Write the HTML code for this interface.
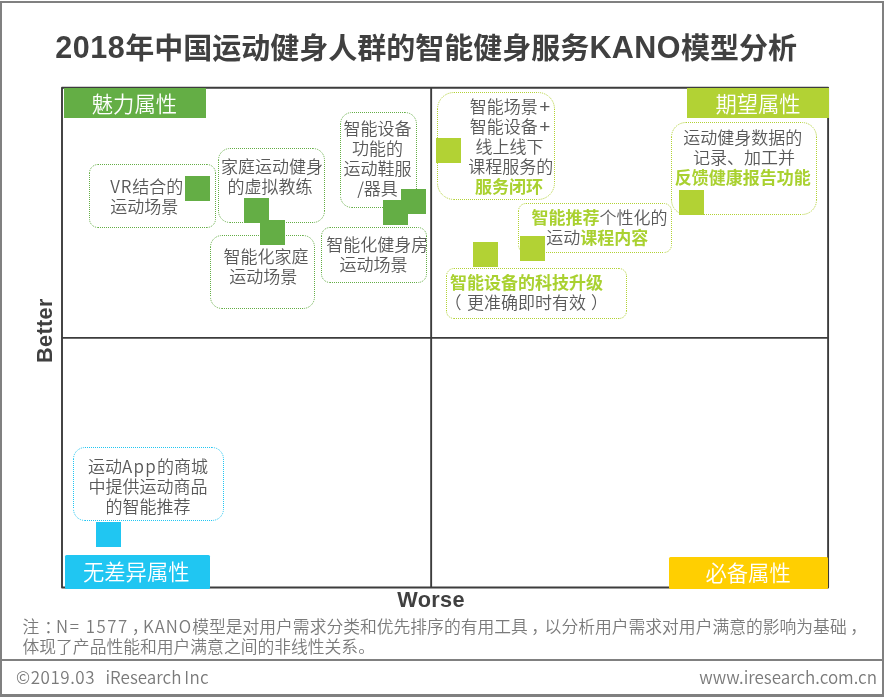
<!DOCTYPE html>
<html lang="zh-CN">
<head>
<meta charset="utf-8">
<title>2018年中国运动健身人群的智能健身服务KANO模型分析</title>
<style>
html,body{margin:0;padding:0;background:#fff;}
body{width:887px;height:697px;position:relative;overflow:hidden;
  font-family:"Liberation Sans","Noto Sans CJK SC",sans-serif;color:#595959;}
.abs{position:absolute;}
#frame{left:0;top:1px;width:880px;height:691px;border:2px solid #808080;border-bottom-width:3px;}
#sep{left:0;top:659px;width:884px;height:2px;background:#808080;}
#title{left:55.3px;top:22.5px;white-space:nowrap;font-weight:bold;font-size:29px;line-height:44px;color:#404040;
  font-family:"Noto Sans CJK SC",sans-serif;}
.lab{color:#fff;font-size:21.3px;text-align:center;font-family:"Noto Sans CJK SC DemiLight","Noto Sans CJK SC",sans-serif;font-weight:400;white-space:nowrap;}
.txt{font-family:"Noto Sans CJK SC DemiLight","Noto Sans CJK SC",sans-serif;font-size:17px;line-height:20px;text-align:center;white-space:nowrap;color:#595959;}
.txt b{color:#a9d130;font-weight:bold;font-family:"Noto Sans CJK SC",sans-serif;}
.sq{width:25px;height:25px;}
.g{background:#64ae45;}
.l{background:#b2d234;}
.c{background:#20c6f2;}
.ax{font-family:"Liberation Sans",sans-serif;font-weight:bold;font-size:21.7px;color:#404040;white-space:nowrap;line-height:24px;letter-spacing:0.35px;}
.note{font-family:"Noto Sans CJK SC DemiLight","Noto Sans CJK SC",sans-serif;font-size:16.8px;line-height:20px;color:#7a7a7a;white-space:nowrap;}
.note .la{letter-spacing:1px;}
.foot{font-family:"Noto Sans CJK SC DemiLight","Noto Sans CJK SC",sans-serif;font-size:17px;line-height:20px;color:#7a7a7a;white-space:nowrap;}
#t1{letter-spacing:0.55px;font-family:"Liberation Sans",sans-serif;font-size:30.5px;line-height:0;}#t3{letter-spacing:0.45px;font-family:"Liberation Sans",sans-serif;font-size:30.5px;line-height:0;}#t2,#t4{position:relative;top:1.3px;}
.pl{font-family:"Liberation Sans",sans-serif;line-height:0;font-size:19px;padding:0 0 0 1.5px;}
.pc{position:relative;}
</style>
</head>
<body style="will-change:transform">
<div id="frame" class="abs"></div>
<div id="sep" class="abs"></div>
<div id="title" class="abs"><span id="t1">2018</span><span id="t2">年中国运动健身人群的智能健身服务</span><span id="t3">KANO</span><span id="t4">模型分析</span></div>

<svg class="abs" style="left:0;top:0;" width="887" height="697" viewBox="0 0 887 697">
<rect x="62" y="87.7" width="766.1" height="499.8" fill="none" stroke="#3c3c3c" stroke-width="1.9" stroke-linejoin="round"/>
<line x1="431.15" y1="88" x2="431.15" y2="587" stroke="#3c3c3c" stroke-width="1.9"/>
<line x1="62" y1="337.95" x2="828" y2="337.95" stroke="#3c3c3c" stroke-width="1.8"/>
<g stroke="#64ae45" fill="none" stroke-width="1" stroke-dasharray="1 1"><path d="M98 164.5H207M98 227.5H207M89.5 173V219M215.5 173V219"/><path d="M89.5 173A8.5 8.5 0 0 1 98 164.5M207 164.5A8.5 8.5 0 0 1 215.5 173M215.5 219A8.5 8.5 0 0 1 207 227.5M98 227.5A8.5 8.5 0 0 1 89.5 219"/></g>
<g stroke="#64ae45" fill="none" stroke-width="1" stroke-dasharray="1 1"><path d="M230 148.5H313M230 222.5H313M218.5 160V211M324.5 160V211"/><path d="M218.5 160A11.5 11.5 0 0 1 230 148.5M313 148.5A11.5 11.5 0 0 1 324.5 160M324.5 211A11.5 11.5 0 0 1 313 222.5M230 222.5A11.5 11.5 0 0 1 218.5 211"/></g>
<g stroke="#64ae45" fill="none" stroke-width="1" stroke-dasharray="1 1"><path d="M222 235.5H303M222 308.5H303M210.5 247V297M314.5 247V297"/><path d="M210.5 247A11.5 11.5 0 0 1 222 235.5M303 235.5A11.5 11.5 0 0 1 314.5 247M314.5 297A11.5 11.5 0 0 1 303 308.5M222 308.5A11.5 11.5 0 0 1 210.5 297"/></g>
<g stroke="#64ae45" fill="none" stroke-width="1" stroke-dasharray="1 1"><path d="M352 112.5H405M352 207.5H405M340.5 124V196M416.5 124V196"/><path d="M340.5 124A11.5 11.5 0 0 1 352 112.5M405 112.5A11.5 11.5 0 0 1 416.5 124M416.5 196A11.5 11.5 0 0 1 405 207.5M352 207.5A11.5 11.5 0 0 1 340.5 196"/></g>
<g stroke="#64ae45" fill="none" stroke-width="1" stroke-dasharray="1 1"><path d="M330 227.5H418M330 282.5H418M321.5 236V274M426.5 236V274"/><path d="M321.5 236A8.5 8.5 0 0 1 330 227.5M418 227.5A8.5 8.5 0 0 1 426.5 236M426.5 274A8.5 8.5 0 0 1 418 282.5M330 282.5A8.5 8.5 0 0 1 321.5 274"/></g>
<g stroke="#b2d234" fill="none" stroke-width="1" stroke-dasharray="1 1"><path d="M454 92.5H538M454 199.5H538M437.5 109V183M554.5 109V183"/><path d="M437.5 109A16.5 16.5 0 0 1 454 92.5M538 92.5A16.5 16.5 0 0 1 554.5 109M554.5 183A16.5 16.5 0 0 1 538 199.5M454 199.5A16.5 16.5 0 0 1 437.5 183"/></g>
<g stroke="#b2d234" fill="none" stroke-width="1" stroke-dasharray="1 1"><path d="M526 203.5H664M526 252.5H664M518.5 211V245M671.5 211V245"/><path d="M518.5 211A7.5 7.5 0 0 1 526 203.5M664 203.5A7.5 7.5 0 0 1 671.5 211M671.5 245A7.5 7.5 0 0 1 664 252.5M526 252.5A7.5 7.5 0 0 1 518.5 245"/></g>
<g stroke="#b2d234" fill="none" stroke-width="1" stroke-dasharray="1 1"><path d="M454 268.5H619M454 318.5H619M446.5 276V311M626.5 276V311"/><path d="M446.5 276A7.5 7.5 0 0 1 454 268.5M619 268.5A7.5 7.5 0 0 1 626.5 276M626.5 311A7.5 7.5 0 0 1 619 318.5M454 318.5A7.5 7.5 0 0 1 446.5 311"/></g>
<g stroke="#b2d234" fill="none" stroke-width="1" stroke-dasharray="1 1"><path d="M686 122.5H802M686 214.5H802M671.5 137V200M816.5 137V200"/><path d="M671.5 137A14.5 14.5 0 0 1 686 122.5M802 122.5A14.5 14.5 0 0 1 816.5 137M816.5 200A14.5 14.5 0 0 1 802 214.5M686 214.5A14.5 14.5 0 0 1 671.5 200"/></g>
<g stroke="#20c6f2" fill="none" stroke-width="1" stroke-dasharray="1 1"><path d="M85 447.5H212M85 520.5H212M73.5 459V509M223.5 459V509"/><path d="M73.5 459A11.5 11.5 0 0 1 85 447.5M212 447.5A11.5 11.5 0 0 1 223.5 459M223.5 509A11.5 11.5 0 0 1 212 520.5M85 520.5A11.5 11.5 0 0 1 73.5 509"/></g>
</svg>

<!-- quadrant labels -->
<div class="abs lab" style="left:64px;top:88px;width:141.8px;height:29.5px;line-height:29px;background:#64ae45;text-indent:-1px;">魅力属性</div>
<div class="abs lab" style="left:687px;top:88px;width:142px;height:29.5px;line-height:29px;background:#b2d234;">期望属性</div>
<div class="abs lab" style="left:65.2px;top:555.1px;width:144.6px;height:33.9px;line-height:32px;background:#20c6f2;border-radius:1.5px;text-indent:-2.5px;">无差异属性</div>
<div class="abs lab" style="left:669.1px;top:557.1px;width:159.3px;height:32.1px;line-height:30px;background:#ffcf01;border-radius:1.5px;text-indent:-1.3px;">必备属性</div>

<!-- upper-left items -->
<div class="abs txt" style="left:110.3px;top:176px;text-align:left;"><span style="letter-spacing:0.8px">VR</span>结合的<br>运动场景</div>
<div class="abs sq g" style="left:185px;top:176px;"></div>

<div class="abs txt" style="left:218px;top:156px;width:108px;">家庭运动健身<br><span class="pc" style="left:-2px">的虚拟教练</span></div>
<div class="abs sq g" style="left:244px;top:198px;"></div>
<div class="abs sq g" style="left:260px;top:220px;"></div>

<div class="abs txt" style="left:212px;top:245.5px;width:106px;"><span class="pc" style="left:1px">智能化家庭</span><br><span class="pc" style="left:-1.8px">运动场景</span></div>

<div class="abs txt" style="left:337.5px;top:118px;width:80px;">智能设备<br>功能的<br>运动鞋服<br>/器具</div>
<div class="abs sq g" style="left:401px;top:188.7px;"></div>
<div class="abs sq g" style="left:383px;top:200px;"></div>

<div class="abs txt" style="left:322px;top:233.8px;width:107px;"><span class="pc" style="left:1.8px">智能化健身房</span><br><span class="pc" style="left:-2px">运动场景</span></div>

<!-- upper-right items -->
<div class="abs txt" style="left:465px;top:96px;width:90px;">智能场景<span class="pl">+</span><br>智能设备<span class="pl">+</span><br><span class="pc" style="left:-0.5px">线上线下</span><br><span class="pc" style="left:0.8px">课程服务的</span><br><span class="pc" style="left:-1px"><b>服务闭环</b></span></div>
<div class="abs sq l" style="left:436px;top:138px;"></div>

<div class="abs txt" style="left:519.5px;top:207.3px;width:160px;"><b>智能推荐</b>个性化的<br><span class="pc" style="left:-2.3px">运动<b>课程内容</b></span></div>
<div class="abs sq l" style="left:520px;top:236px;"></div>
<div class="abs sq l" style="left:473px;top:242px;"></div>

<div class="abs txt" style="left:450px;top:272px;text-align:left;"><b>智能设备的科技升级</b><br><span style="position:relative;left:-5.5px">（</span>更准确即时有效<span style="position:relative;left:5px">）</span></div>

<div class="abs txt" style="left:666.8px;top:127.1px;width:152px;">运动健身数据的<br><span class="pc" style="left:1.3px">记录、加工并</span><br><b>反馈健康报告功能</b></div>
<div class="abs sq l" style="left:679px;top:190px;"></div>

<!-- lower-left item -->
<div class="abs txt" style="left:73px;top:456.3px;width:150px;">运动<span style="letter-spacing:1.3px">App</span>的商城<br>中提供运动商品<br>的智能推荐</div>
<div class="abs sq c" style="left:96px;top:522px;"></div>

<!-- axis labels -->
<div class="abs ax" id="worse" style="left:397.3px;top:588.4px;">Worse</div>
<div class="abs ax" id="better" style="left:33.3px;top:362.6px;transform-origin:0 0;transform:rotate(-90deg);">Better</div>

<!-- note + footer -->
<div class="abs note" style="left:22.5px;top:616px;">注<span class="pc" style="left:5px">：</span><span class="la" style="letter-spacing:1.55px">N= 1577</span><span class="pc" style="left:3px;margin-right:-2.5px">，</span><span class="la">KANO</span>模型是对用户需求分类和优先排序的有用工具<span class="pc" style="left:3.5px">，</span>以分析用户需求对用户满意的影响为基础<span class="pc" style="left:3.5px">，</span><br>体现了产品性能和用户满意之间的非线性关系。</div>
<div class="abs foot" style="left:16px;top:666.6px;"><span id="f1" style="letter-spacing:0.55px">©2019.03</span> <span id="f2" class="abs" style="left:89.5px;top:0;">iResearch </span><span id="f3" class="abs" style="left:168.3px;top:0;letter-spacing:0.3px">Inc</span></div>
<div class="abs foot" id="f4" style="right:10px;top:666.6px;">www.iresearch.com.cn</div>
</body>
</html>
